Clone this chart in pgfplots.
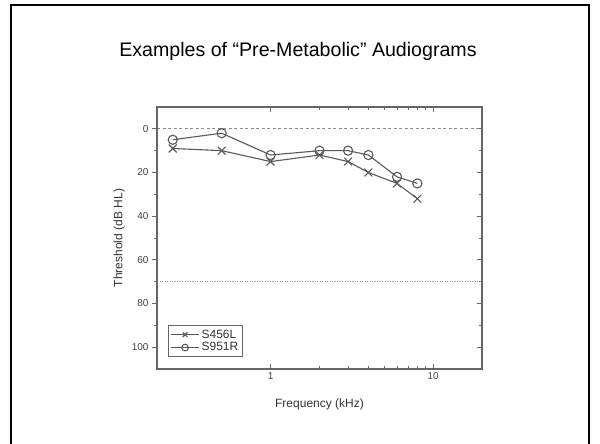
\documentclass[border=0pt]{standalone}
\usepackage{fontspec}
\setmainfont{Liberation Sans}
\usepackage{pgfplots}
\pgfplotsset{compat=1.18}
\begin{document}
\begin{tikzpicture}[x=1pt,y=1pt]
\useasboundingbox (0,0) rectangle (600,444);
\draw[line width=1.6pt] (11,0) -- (11,439) -- (589,439) -- (589,0);
\node[anchor=base, font=\fontsize{19.6}{22}\selectfont] at (298,387)
  {Examples of “Pre-Metabolic” Audiograms};

% box, x axis, right-hand ticks, data
\begin{axis}[scale only axis, width=325pt, height=262pt,
  at={(157pt,75pt)}, anchor=south west,
  xmode=log, xmin=0.2, xmax=20, ymin=-10, ymax=110, y dir=reverse,
  axis line style={black!60, line width=1.1pt},
  tick style={black!60, line width=0.8pt},
  major tick length=5pt, minor tick length=3pt,
  ytick={0,20,...,100}, minor y tick num=1,
  xtick={1,10}, xticklabels={1,10},
  tick label style={font=\fontsize{10}{12}\selectfont, text=black!75},
  label style={font=\fontsize{12}{14}\selectfont, text=black!80},
  tick align=inside, ytick pos=right, yticklabels={},
  xlabel={Frequency (kHz)}, xlabel style={yshift=-12pt},
  legend style={at={(axis description cs:0.034,0.046)}, anchor=south west,
    draw=black!60, line width=0.9pt, font=\fontsize{12}{14}\selectfont,
    text=black!80, row sep=-1pt, inner sep=2pt},
  legend cell align=left,
  legend image code/.code={\draw[mark repeat=2,mark phase=2,mark size=3.3pt]
    plot coordinates {(0pt,0pt) (14pt,0pt) (28pt,0pt)};}]
\addplot[forget plot, black!45, line width=0.8pt, dash pattern=on 3pt off 2.5pt]
  coordinates {(0.2,0) (20,0)};
\addplot[forget plot, black!40, line width=0.8pt, dash pattern=on 1pt off 1.5pt]
  coordinates {(0.2,70) (20,70)};
\addplot[black!65, line width=1.1pt, mark=x, mark size=5.5pt]
  coordinates {(0.25,9) (0.5,10) (1,15) (2,12) (3,15) (4,20) (6,25) (8,32)};
\addlegendentry{S456L}
\addplot[black!65, line width=1.1pt, mark=o, mark size=4.6pt,
  mark options={fill=white}]
  coordinates {(0.25,5) (0.5,2) (1,12) (2,10) (3,10) (4,12) (6,22) (8,25)};
\addlegendentry{S951R}
\end{axis}

% left y axis, ticks outside
\begin{axis}[scale only axis, width=325pt, height=262pt,
  at={(157pt,75pt)}, anchor=south west,
  xmode=log, xmin=0.2, xmax=20, ymin=-10, ymax=110, y dir=reverse,
  axis line style={black!60, line width=1.1pt},
  tick style={black!60, line width=0.8pt},
  major tick length=5pt, minor tick length=3pt,
  ytick={0,20,...,100}, minor y tick num=1,
  /pgf/number format/assume math mode=true,
  tick label style={font=\fontsize{10}{12}\selectfont, text=black!75},
  label style={font=\fontsize{12}{14}\selectfont, text=black!80},
  hide x axis, axis y line*=left, ytick pos=left,
  tick align=outside, ylabel={Threshold (dB HL)}]
\addplot[draw=none, forget plot] coordinates {(1,50)};
\end{axis}
\end{tikzpicture}
\end{document}
